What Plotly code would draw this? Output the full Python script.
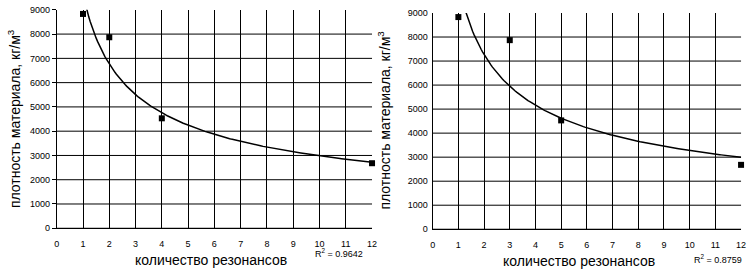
import numpy as np
import plotly.graph_objects as go

# --- data ---
x_left = [1, 2, 4, 12]
y_left = [8830, 7870, 4530, 2680]
x_right = [1, 3, 5, 12]
y_right = [8830, 7870, 4530, 2680]
r2_left = "0.9642"
r2_right = "0.8759"
x_ticks = list(range(0, 13))
y_ticks = list(range(0, 9001, 1000))
x_title = "количество резонансов"
y_title = "плотность материала, кг/м<sup>3</sup>"

TICK_FONT = dict(family="Liberation Sans, Arial, sans-serif", size=9, color="black")
TITLE_FONT = dict(family="Liberation Sans, Arial, sans-serif", size=14, color="black")


def power_fit(xs, ys):
    b, ln_a = np.polyfit(np.log(xs), np.log(ys), 1)
    xx = np.linspace(min(xs), max(xs), 200)
    return xx, np.exp(ln_a) * xx ** b


fig = go.Figure()

for i, (xs, ys) in enumerate([(x_left, y_left), (x_right, y_right)]):
    xa = "x" if i == 0 else "x2"
    ya = "y" if i == 0 else "y2"
    fx, fy = power_fit(xs, ys)
    fig.add_trace(go.Scatter(x=fx, y=fy, mode="lines", line=dict(color="black", width=1.5),
                             xaxis=xa, yaxis=ya, showlegend=False, hoverinfo="skip"))
    fig.add_trace(go.Scatter(x=xs, y=ys, mode="markers", cliponaxis=False,
                             marker=dict(symbol="square", size=6, color="black"),
                             xaxis=xa, yaxis=ya, showlegend=False))

W, H = 751, 275


def fx_(px):
    return px / W


def fy_(py):
    return 1 - py / H


common_x = dict(range=[0, 12], tickvals=x_ticks, showgrid=True, gridcolor="black", gridwidth=1,
                zeroline=False, showline=True, linecolor="black", linewidth=1,
                ticks="outside", ticklen=7, tickcolor="rgba(0,0,0,0)", tickfont=TICK_FONT,
                ticklabeloverflow="allow")
common_y = dict(range=[0, 9000], tickvals=y_ticks, showgrid=False,
                zeroline=False, showline=True, linecolor="black", linewidth=1,
                tickfont=TICK_FONT)

fig.update_layout(
    width=W, height=H, margin=dict(l=0, r=0, t=0, b=0),
    paper_bgcolor="white", plot_bgcolor="white",
    xaxis=dict(domain=[fx_(54.3), fx_(373)], anchor="y", **common_x),
    yaxis=dict(domain=[fy_(231.7), fy_(5)], anchor="x", ticks="outside", ticklen=4, tickcolor="black", **common_y),
    xaxis2=dict(domain=[fx_(434.3), fx_(746)], anchor="y2", **common_x),
    yaxis2=dict(domain=[fy_(232.7), fy_(8.3)], anchor="x2", ticks="outside", ticklen=2,
                tickcolor="rgba(0,0,0,0)", **common_y),
    showlegend=False,
)

# horizontal grid lines (the reference has none at the top value)
shapes = []
for xa, ya in (("x", "y"), ("x2", "y2")):
    for v in y_ticks[:-1]:
        shapes.append(dict(type="line", xref=xa + " domain", yref=ya, x0=0, x1=1, y0=v, y1=v,
                           line=dict(color="black", width=1), layer="below"))
fig.update_layout(shapes=shapes)

annos = [
    dict(text=x_title, x=fx_(210), y=fy_(265), xanchor="center", yanchor="middle", font=TITLE_FONT),
    dict(text=x_title, x=fx_(582.5), y=fy_(266), xanchor="center", yanchor="middle", font=TITLE_FONT),
    dict(text=y_title, x=fx_(11), y=fy_(117.5), xanchor="center", yanchor="middle", textangle=-90, font=TITLE_FONT),
    dict(text=y_title, x=fx_(385), y=fy_(119), xanchor="center", yanchor="middle", textangle=-90, font=TITLE_FONT),
    dict(text="R<sup>2</sup> = " + r2_left, x=fx_(340), y=fy_(257.5), xanchor="center", yanchor="middle", font=TICK_FONT),
    dict(text="R<sup>2</sup> = " + r2_right, x=fx_(723), y=fy_(264), xanchor="center", yanchor="middle", font=TICK_FONT),
]
for a in annos:
    a.update(xref="paper", yref="paper", showarrow=False)
fig.update_layout(annotations=annos)

fig.write_html("out.html", config={"displayModeBar": False},
               post_script="document.body.style.margin='0';")
